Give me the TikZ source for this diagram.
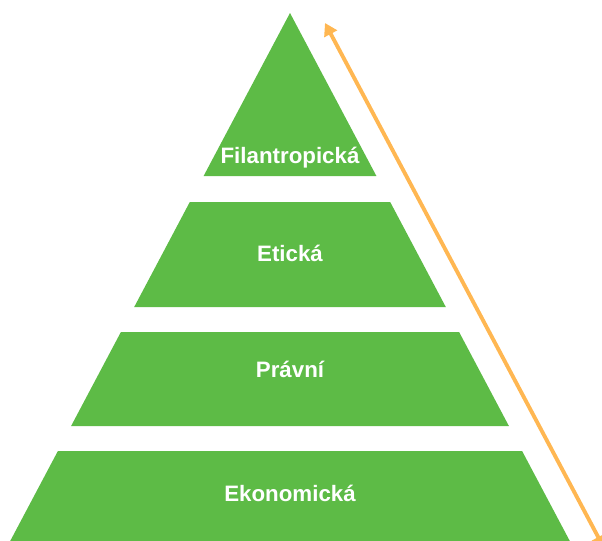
\documentclass[tikz,border=0pt]{standalone}
\usepackage{fontspec}
\setmainfont{Liberation Sans}
\usetikzlibrary{arrows.meta}
\definecolor{pyrgreen}{RGB}{93,187,70}
\definecolor{arrorange}{RGB}{255,183,82}

\begin{document}
\begin{tikzpicture}[x=0.02cm,y=-0.02cm,
    band/.style={fill=pyrgreen,draw=none},
    lbl/.style={text=white,font=\bfseries\fontsize{12.7}{15}\selectfont},
    arr/.style={draw=arrorange,line width=2.2pt,{Triangle[length=7pt,width=8pt]}-{Triangle[length=7pt,width=8pt]}}]
    \useasboundingbox (0,0) rectangle (602,541);
    \clip (0,0) rectangle (602,541);
    \fill[band] (290,13) -- (376.4,176) -- (203.6,176) -- cycle;
    \fill[band] (189.8,202) -- (390.2,202) -- (445.8,307) -- (134.2,307) -- cycle;
    \fill[band] (120.9,332) -- (459.1,332) -- (508.9,426) -- (71.1,426) -- cycle;
    \fill[band] (57.9,451) -- (522.1,451) -- (569.8,541) -- (10.2,541) -- cycle;
    \node[lbl] (filantropicka) at (290,158) {Filantropická};
    \node[lbl] (eticka) at (290,253) {Etická};
    \node[lbl] (pravni) at (290,369) {Právní};
    \node[lbl] (ekonomicka) at (290,493) {Ekonomická};
    \coordinate (arrtop) at (325,23);
    \coordinate (arrbot) at (604,548);
    \draw[arr] (arrtop) -- (arrbot);
\end{tikzpicture}
\end{document}
